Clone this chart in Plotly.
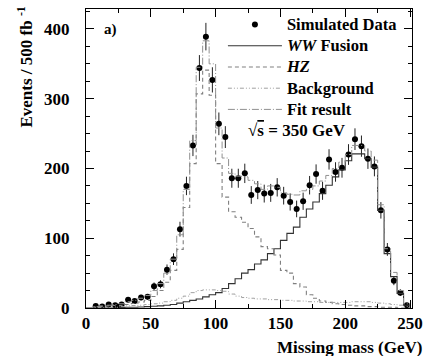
import numpy as np
import plotly.graph_objects as go

# ---- data (5 GeV bins, 0-250 GeV) ----
bin_width = 5
data_centers = [7.5, 12.5, 17.5, 22.5, 27.5, 32.5, 37.5, 42.5, 47.5, 52.5,
                57.5, 62.5, 67.5, 72.5, 77.5, 82.5, 87.5, 92.5, 97.5, 102.5,
                107.5, 112.5, 117.5, 122.5, 127.5, 132.5, 137.5, 142.5, 147.5, 152.5,
                157.5, 162.5, 167.5, 172.5, 177.5, 182.5, 187.5, 192.5, 197.5, 202.5,
                207.5, 212.5, 217.5, 222.5, 227.5, 232.5, 237.5, 242.5, 247.5]
data_counts = [3, 2, 5, 4, 5, 12, 10, 15, 16, 31,
               34, 55, 70, 113, 175, 233, 344, 389, 327, 264,
               245, 186, 186, 193, 162, 169, 164, 165, 173, 161,
               152, 142, 153, 176, 192, 168, 213, 195, 201, 220,
               242, 232, 214, 203, 140, 84, 39, 22, 4]

ww_fusion = [0, 0, 0, 0, 0, 0.5, 1, 1, 1.5, 2,
             2.5, 3, 4, 5, 7, 9, 11, 13, 16, 19,
             22, 28, 35, 42, 50, 55, 63, 69, 78, 85,
             97, 107, 116, 130, 142, 152, 164, 176, 188, 198,
             211, 221, 221, 214, 202, 140, 78, 45, 21, 4]

hz = [0, 1.5, 2, 3, 3.5, 3.5, 5, 6.5, 8.5, 11,
      16.5, 25, 37, 54, 84, 144, 207, 307, 341, 305,
      207, 159, 138, 130, 123, 114, 102, 88, 85, 76,
      54, 50, 35, 30, 19, 14, 10, 8, 6, 5,
      4, 3, 3, 2, 2, 1, 1, 1, 0, 0]

background = [0, 0.5, 1, 1, 1.5, 2, 3, 3.5, 4, 5,
              6, 7, 9, 11, 14, 17, 22, 25, 26, 26,
              25, 24, 20, 17, 15, 14, 13, 13, 12, 12,
              11, 11, 10, 10, 9, 9, 8, 8, 8, 8,
              8, 9, 9, 9, 8, 7, 6, 5, 4, 2]

fit_result = [0, 2, 3, 4, 5, 6, 9, 11, 14, 18,
              25, 35, 50, 70, 105, 170, 240, 345, 383, 350,
              258, 215, 193, 189, 188, 183, 178, 170, 175, 173,
              165, 163, 162, 168, 170, 175, 182, 190, 200, 209,
              220, 233, 233, 225, 212, 148, 85, 51, 25, 6]

x_ticks = [0, 50, 100, 150, 200, 250]
y_ticks = [0, 100, 200, 300, 400]

SERIF = "Liberation Serif"


def step_xy(values):
    edges = np.arange(len(values) + 1) * bin_width
    xs = list(edges) + [edges[-1]]
    ys = list(values) + [values[-1], 0]
    return xs, ys


def big(t):
    return "<span style='font-size:16.5px'>" + t + "</span>"


fig = go.Figure()

fig.add_trace(go.Scatter(
    x=data_centers, y=data_counts, mode="markers", name=big("Simulated Data"),
    marker=dict(symbol="circle", size=6, color="black"),
    error_y=dict(type="data", array=list(np.sqrt(data_counts)), color="#222",
                 thickness=1, width=0),
    error_x=dict(type="constant", value=2.0, color="black", thickness=1.2, width=0),
))

styles = [
    ("<i>WW</i> Fusion", ww_fusion, "#333333", "solid", 1.1),
    ("<i>HZ</i>", hz, "#808080", "4px,3px", 1.1),
    ("Background", background, "#a0a0a0", "4px,2px,1px,2px,1px,2px", 1.0),
    ("Fit result", fit_result, "#909090", "7px,2px,1px,2px", 1.0),
]
for name, vals, col, dash, w in styles:
    xs, ys = step_xy(vals)
    fig.add_trace(go.Scatter(
        x=xs, y=ys, mode="lines", name=big(name), line_shape="hv",
        line=dict(color=col, dash=dash, width=w),
    ))

axis_common = dict(
    showline=True, linecolor="black", linewidth=1, mirror="allticks",
    ticks="inside", ticklen=8, tickwidth=1, tickcolor="black",
    showgrid=False, zeroline=False,
    tickfont=dict(family=SERIF, size=17, color="black", weight="bold"),
)

fig.update_xaxes(range=[0, 251.5], tickvals=x_ticks,
                 minor=dict(dtick=25, ticks="inside", ticklen=4, tickcolor="black"),
                 ticklabelstandoff=0, **axis_common)
fig.update_yaxes(range=[0, 428.6], tickvals=y_ticks,
                 minor=dict(dtick=25, ticks="inside", ticklen=4, tickcolor="black"),
                 ticklabelstandoff=12, **axis_common)

fig.update_layout(
    width=431, height=356,
    margin=dict(l=86, r=16, t=8, b=48),
    paper_bgcolor="white", plot_bgcolor="white",
    font=dict(family=SERIF, size=15, color="black", weight="bold"),
    showlegend=True,
    legend=dict(x=0.42, y=1.0, xanchor="left", yanchor="top",
                bgcolor="rgba(0,0,0,0)", borderwidth=0,
                font=dict(family=SERIF, size=14, color="black", weight="bold"),
                itemwidth=54, tracegroupgap=0),
    annotations=[
        dict(text="a)", xref="paper", yref="paper", x=0.05, y=0.93,
             xanchor="left", yanchor="middle", showarrow=False,
             font=dict(family=SERIF, size=15, weight="bold")),
        dict(text="√<span style='text-decoration:overline'>s</span> = 350 GeV",
             xref="paper", yref="paper", x=0.49, y=0.593,
             xanchor="left", yanchor="middle", showarrow=False,
             font=dict(family=SERIF, size=17, weight="bold")),
        dict(text="Missing mass (GeV)", xref="paper", yref="paper",
             x=1.0, y=-0.133, xanchor="right", yanchor="middle", xshift=12,
             showarrow=False, font=dict(family=SERIF, size=17, weight="bold")),
        dict(text="Events / 500 fb <sup>-1</sup>", xref="paper", yref="paper",
             x=-0.19, y=1.0, xanchor="center", yanchor="top", textangle=-90,
             yshift=4, showarrow=False,
             font=dict(family=SERIF, size=17, weight="bold")),
    ],
)

fig.write_html("out.html")
